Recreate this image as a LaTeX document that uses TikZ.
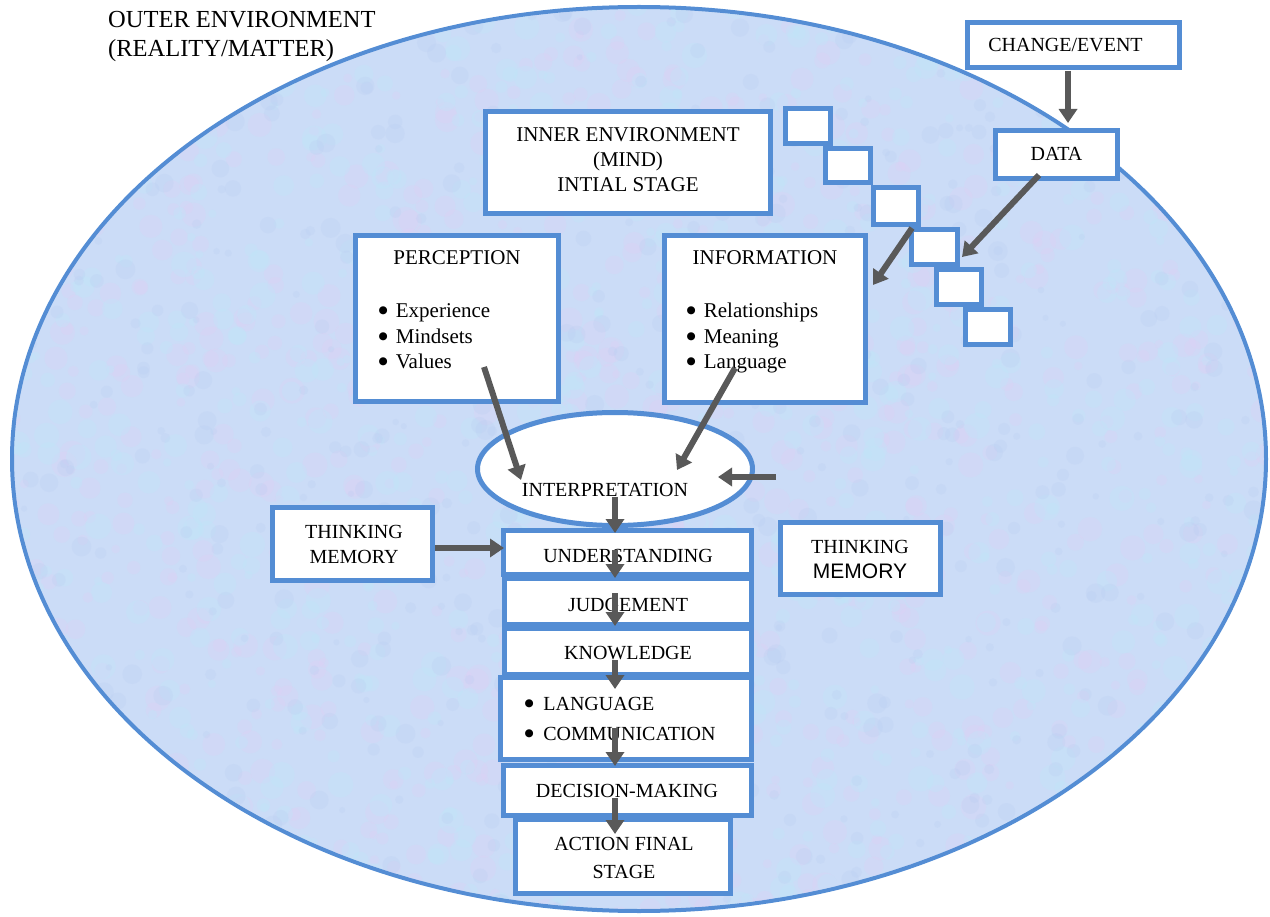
\documentclass[tikz,border=0pt]{standalone}
\usepackage{fontspec}
\setmainfont{Liberation Serif}
\newfontfamily\arialf{Liberation Sans}
\newfontfamily\dejavu{DejaVu Sans}
\usetikzlibrary{arrows.meta,shapes.geometric}
\definecolor{bdr}{RGB}{84,141,212}
\definecolor{arrc}{RGB}{89,89,89}
\definecolor{env}{RGB}{203,220,247}
\definecolor{envpink}{RGB}{224,207,245}
\definecolor{envcyan}{RGB}{190,232,250}
\definecolor{envblue}{RGB}{186,205,242}
\tikzset{
  boxn/.style={draw=bdr, line width=5pt, fill=white, inner sep=0pt},
  txt/.style={inner sep=0pt, anchor=base, font=\fontsize{20}{24}\selectfont},
  txtb/.style={txt, font=\fontsize{21}{25}\selectfont},
  arr/.style={draw=arrc, line width=6pt, -{Triangle[width=18pt,length=14pt]}},
}
\newcommand{\bx}[5]{\node[boxn, minimum width=#4pt, minimum height=#5pt] (#1) at (#2,#3) {};}
\newcommand{\blt}{\raisebox{4pt}{\dejavu\fontsize{10.5}{10.5}\selectfont ●}}
\begin{document}
\begin{tikzpicture}[x=1pt,y=-1pt]
\useasboundingbox (0,0) rectangle (1270,917);
% outer environment
\node[draw=bdr, line width=4pt, fill=env, ellipse, inner sep=0pt,
      minimum width=1254pt, minimum height=904pt] (outer) at (639,459) {};
\begin{scope}
  \clip (639,459) ellipse [x radius=625, y radius=450];
  \pgfmathsetseed{7}
  \foreach \i in {1,...,900} {
    \pgfmathsetmacro\xx{rnd*1270}
    \pgfmathsetmacro\yy{rnd*917}
    \pgfmathsetmacro\rr{4+rnd*9}
    \fill[envpink, opacity=0.28] (\xx,\yy) circle [radius=\rr pt];
  }
  \foreach \i in {1,...,900} {
    \pgfmathsetmacro\xx{rnd*1270}
    \pgfmathsetmacro\yy{rnd*917}
    \pgfmathsetmacro\rr{4+rnd*9}
    \fill[envcyan, opacity=0.28] (\xx,\yy) circle [radius=\rr pt];
  }
  \foreach \i in {1,...,600} {
    \pgfmathsetmacro\xx{rnd*1270}
    \pgfmathsetmacro\yy{rnd*917}
    \pgfmathsetmacro\rr{3+rnd*7}
    \fill[envblue, opacity=0.25] (\xx,\yy) circle [radius=\rr pt];
  }
\end{scope}
\node[inner sep=0pt, anchor=base west, font=\fontsize{24.5}{29}\selectfont] (outerT1) at (108,28) {OUTER ENVIRONMENT};
\node[inner sep=0pt, anchor=base west, font=\fontsize{24.5}{29}\selectfont] (outerT2) at (108,57) {(REALITY/MATTER)};

% top right
\bx{change}{1073.5}{45}{212}{45}
\node[txt] (changeT) at (1065.5,52) {CHANGE/EVENT};
\bx{data}{1056.5}{154.5}{122}{48}
\node[txt] (dataT) at (1056.5,161) {DATA};

% stair boxes
\bx{s1}{808}{126}{45}{35}
\bx{s2}{848}{165.5}{45}{34}
\bx{s3}{896}{206}{45}{37}
\bx{s4}{934.5}{247}{46}{35}
\bx{s5}{959}{287}{45}{35}
\bx{s6}{988}{327}{45}{35}

% inner environment
\bx{inner}{628}{162.5}{285}{102}
\node[txtb] (innerT1) at (628,142) {INNER ENVIRONMENT};
\node[txtb] (innerT2) at (628,167) {(MIND)};
\node[txtb] (innerT3) at (628,192) {INTIAL STAGE};

% perception
\bx{perc}{457}{318.5}{203}{166}
\node[txtb] (percT) at (457,265) {PERCEPTION};
\node[txtb, anchor=base west] (perc1) at (378.5,318) {\blt\hspace{8pt}Experience};
\node[txtb, anchor=base west] (perc2) at (378.5,344) {\blt\hspace{8pt}Mindsets};
\node[txtb, anchor=base west] (perc3) at (378.5,369) {\blt\hspace{8pt}Values};

% information
\bx{info}{765}{319}{201}{167}
\node[txtb] (infoT) at (765,265) {INFORMATION};
\node[txtb, anchor=base west] (info1) at (686.5,318) {\blt\hspace{8pt}Relationships};
\node[txtb, anchor=base west] (info2) at (686.5,344) {\blt\hspace{8pt}Meaning};
\node[txtb, anchor=base west] (info3) at (686.5,369) {\blt\hspace{8pt}Language};

% interpretation
\node[draw=bdr, line width=5pt, fill=white, ellipse, inner sep=0pt,
      minimum width=275pt, minimum height=113pt] (interp) at (615,469) {};
\node[txt] (interpT) at (605,496) {INTERPRETATION};

% thinking memory boxes
\bx{tmL}{352.5}{544}{160}{73}
\node[txt] (tmL1) at (354,538) {THINKING};
\node[txt] (tmL2) at (354,563) {MEMORY};
\bx{tmR}{860.5}{558.5}{160}{72}
\node[txt] (tmR1) at (860,553) {THINKING};
\node[txt, font=\arialf\fontsize{21}{25}\selectfont] (tmR2) at (860,578) {MEMORY};

% central column
\bx{und}{627.5}{552.5}{248}{44}
\node[txt] (undT) at (628,562) {UNDERSTANDING};
\bx{jud}{628}{601.5}{247}{46}
\node[txt] (judT) at (628,611) {JUDGEMENT};
\bx{know}{628}{651.5}{247}{46}
\node[txt] (knowT) at (628,659) {KNOWLEDGE};
\bx{lang}{626}{718.5}{251}{82}
\node[txt, anchor=base west] (lang1) at (524.5,710) {\blt\hspace{9.5pt}LANGUAGE};
\node[txt, anchor=base west] (lang2) at (524.5,740) {\blt\hspace{9.5pt}COMMUNICATION};
\bx{dec}{627.5}{790.5}{248}{50}
\node[txt] (decT) at (627,797) {DECISION-MAKING};
\bx{act}{623}{856.5}{215}{74}
\node[txt] (act1) at (624,850) {ACTION FINAL};
\node[txt] (act2) at (624,878) {STAGE};

% arrow end points
\coordinate (c1s) at (1068,71);   \coordinate (c1e) at (1068,123);
\coordinate (c2s) at (1039,175);  \coordinate (c2e) at (962,257);
\coordinate (c3s) at (912,228);   \coordinate (c3e) at (873,285);
\coordinate (c4s) at (484,367);   \coordinate (c4e) at (521,480);
\coordinate (c5s) at (735,368);   \coordinate (c5e) at (677,470);
\coordinate (c6s) at (776,477);   \coordinate (c6e) at (718,477);
\coordinate (c7s) at (615,497);   \coordinate (c7e) at (615,533);
\coordinate (c8s) at (435,548);   \coordinate (c8e) at (504,548);
\coordinate (c9s) at (615,550);   \coordinate (c9e) at (615,578);
\coordinate (c10s) at (615,593);  \coordinate (c10e) at (615,626);
\coordinate (c11s) at (615,660);  \coordinate (c11e) at (615,689);
\coordinate (c12s) at (615,728);  \coordinate (c12e) at (615,766);
\coordinate (c13s) at (615,798);  \coordinate (c13e) at (615,834);

\draw[arr] (c1s) -- (c1e);
\draw[arr] (c2s) -- (c2e);
\draw[arr] (c3s) -- (c3e);
\draw[arr] (c4s) -- (c4e);
\draw[arr] (c5s) -- (c5e);
\draw[arr] (c6s) -- (c6e);
\draw[arr] (c7s) -- (c7e);
\draw[arr] (c8s) -- (c8e);
\draw[arr] (c9s) -- (c9e);
\draw[arr] (c10s) -- (c10e);
\draw[arr] (c11s) -- (c11e);
\draw[arr] (c12s) -- (c12e);
\draw[arr] (c13s) -- (c13e);
\end{tikzpicture}
\end{document}
